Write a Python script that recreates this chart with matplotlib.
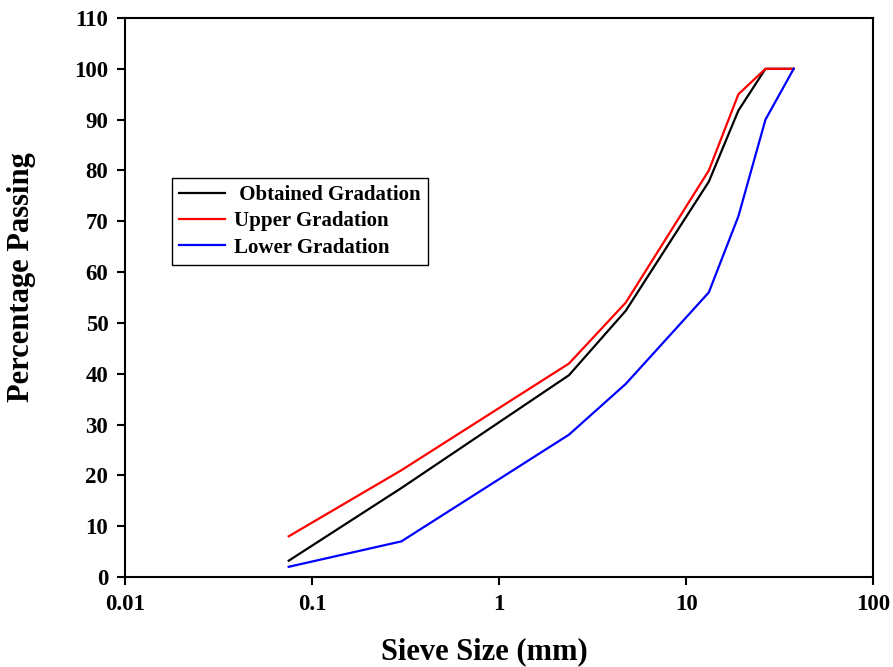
import numpy as np
import matplotlib.pyplot as plt

# Sieve sizes (mm) and percentage passing
sieve = [0.075, 0.3, 2.36, 4.75, 13.2, 19.0, 26.5, 37.5]
obtained = [3.2, 17.5, 39.7, 52.4, 77.8, 91.8, 100, 100]
upper = [8, 21, 42, 54, 80, 95, 100, 100]
lower = [2, 7, 28, 38, 56, 71, 90, 100]

plt.rcParams['font.family'] = ['Liberation Serif', 'DejaVu Serif']
plt.rcParams['font.weight'] = 'bold'

fig = plt.figure(figsize=(8.93, 6.67), dpi=100)
ax = fig.add_axes([0.140, 0.135, 0.838, 0.838])

ax.plot(sieve, obtained, color='black', lw=1.6, label=' Obtained Gradation')
ax.plot(sieve, upper, color='#ff0000', lw=1.6, label='Upper Gradation')
ax.plot(sieve, lower, color='#0000ff', lw=1.6, label='Lower Gradation')

ax.set_xscale('log')
ax.set_xlim(0.01, 100)
ax.set_ylim(0, 110)
ax.set_xticks([0.01, 0.1, 1, 10, 100])
ax.set_xticklabels(['0.01', '0.1', '1', '10', '100'])
ax.minorticks_off()
ax.set_yticks(np.arange(0, 111, 10))

ax.tick_params(direction='out', length=6, width=1.5, labelsize=16.5, pad=6)
for lab in ax.get_xticklabels() + ax.get_yticklabels():
    lab.set_fontweight('bold')
for s in ax.spines.values():
    s.set_linewidth(1.5)

ax.set_xlabel('Sieve Size (mm)', fontsize=22, fontweight='bold', va='center')
ax.set_ylabel('Percentage Passing', fontsize=22, fontweight='bold', va='center')
ax.xaxis.set_label_coords(0.48, -0.134)
ax.yaxis.set_label_coords(-0.138, 0.537)

leg = ax.legend(loc='upper left', bbox_to_anchor=(0.063, 0.714), borderaxespad=0,
                fancybox=False, edgecolor='black', framealpha=1,
                prop={'size': 15, 'weight': 'bold'}, handlelength=2.2,
                handletextpad=0.4, labelspacing=0.3, borderpad=0.35)
leg.get_frame().set_linewidth(1.0)

fig.savefig('out.png', dpi=100)
